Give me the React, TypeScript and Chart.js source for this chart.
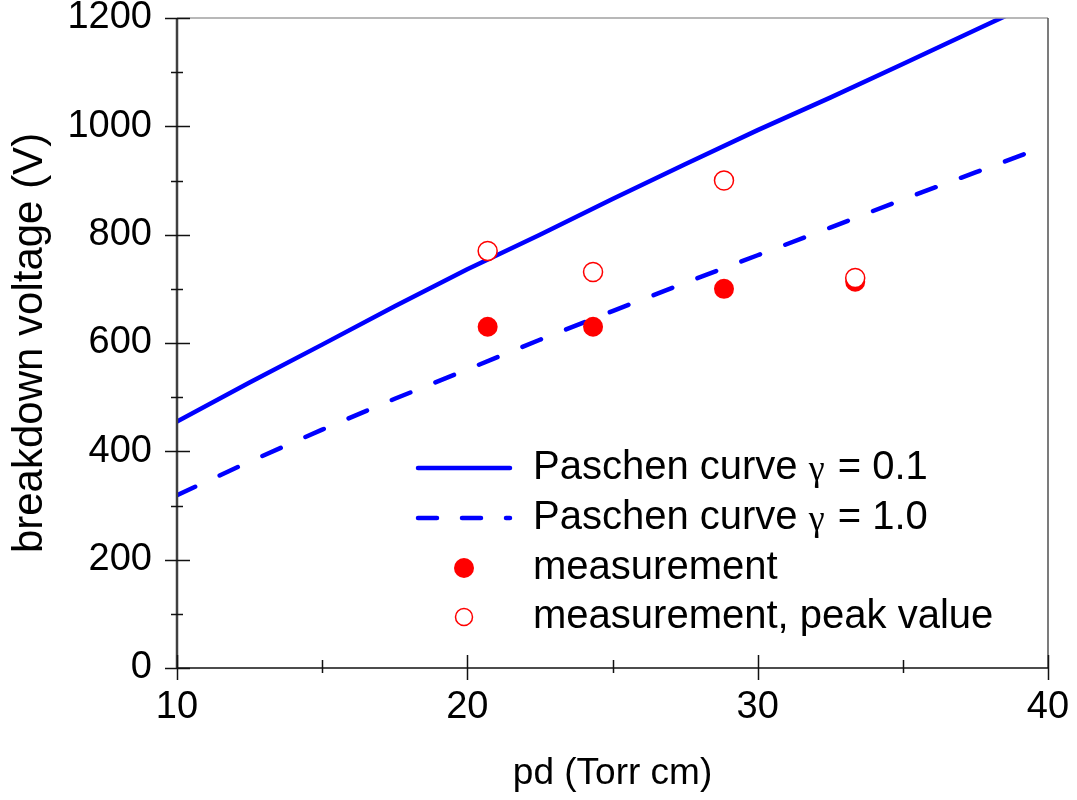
import React, { useEffect, useRef } from 'react';
import { Chart, registerables } from 'chart.js';

Chart.register(...registerables);

// ---- data ----
const pdCurve = [10, 12.5, 15, 17.5, 20, 22.5, 25, 27.5, 30, 32.5, 35, 37.5, 40];
const vGamma01 = [455, 527, 597, 668, 736, 800, 866, 930, 993, 1053, 1115, 1178, 1240];
const vGamma10 = [319, 381, 440, 497, 551, 606, 659, 711, 762, 813, 865, 915, 965];
const pdMeasured = [20.7, 24.33, 28.84, 33.36];
const vMeasured = [630, 630, 700, 713];
const vPeak = [770, 731, 900, 720];
const xTicks = [10, 20, 30, 40];
const yTicks = [0, 200, 400, 600, 800, 1000, 1200];
const xMinorTicks = [15, 25, 35];
const yMinorTicks = [100, 300, 500, 700, 900, 1100];
const legendLabels = [
  'Paschen curve γ = 0.1',
  'Paschen curve γ = 1.0',
  'measurement',
  'measurement, peak value',
];
const xTitle = 'pd (Torr cm)';
const yTitle = 'breakdown voltage (V)';

const SANS = "'Liberation Sans', Arial, sans-serif";
const SERIF = "'Liberation Serif', 'Times New Roman', serif";
const BLUE = '#0000ff';
const RED = '#ff0000';

const framePlugin = {
  id: 'frameTicks',
  afterDraw(chart: any) {
    const { ctx, chartArea: a, scales } = chart;
    const xs = scales.x;
    const ys = scales.y;
    const seg = (x1: number, y1: number, x2: number, y2: number) => {
      ctx.beginPath();
      ctx.moveTo(x1, y1);
      ctx.lineTo(x2, y2);
      ctx.stroke();
    };
    ctx.save();
    ctx.lineCap = 'butt';
    ctx.strokeStyle = '#a0a0a0';
    ctx.lineWidth = 1.5;
    seg(a.left, a.top, a.right, a.top);
    ctx.strokeStyle = '#505050';
    ctx.lineWidth = 1.5;
    seg(a.right, a.top, a.right, a.bottom);
    ctx.strokeStyle = '#404040';
    ctx.lineWidth = 2.5;
    seg(a.left, a.top, a.left, a.bottom);
    ctx.strokeStyle = '#111111';
    ctx.lineWidth = 1.5;
    seg(a.left, a.bottom, a.right, a.bottom);
    ctx.strokeStyle = '#111111';
    ctx.lineWidth = 1.5;
    yTicks.forEach((v) => {
      const py = Math.round(ys.getPixelForValue(v)) + 0.5;
      seg(a.left - 12, py, a.left + 13, py);
    });
    yMinorTicks.forEach((v) => {
      const py = Math.round(ys.getPixelForValue(v)) + 0.5;
      seg(a.left - 6, py, a.left + 6, py);
    });
    xTicks.forEach((v) => {
      const px = Math.round(xs.getPixelForValue(v)) + 0.5;
      seg(px, a.bottom - 13, px, a.bottom + 12);
    });
    xMinorTicks.forEach((v) => {
      const px = Math.round(xs.getPixelForValue(v)) + 0.5;
      seg(px, a.bottom - 8, px, a.bottom + 5);
    });
    ctx.restore();
  },
};

const legendPlugin = {
  id: 'innerLegend',
  afterDraw(chart: any) {
    const { ctx } = chart;
    const rows = [468, 518, 568, 617];
    const lineX1 = 418;
    const lineX2 = 510;
    const markX = 464;
    const textX = 533;
    const fontSize = 40;
    ctx.save();
    ctx.textBaseline = 'middle';
    ctx.textAlign = 'left';
    ctx.fillStyle = '#000';
    legendLabels.forEach((label, i) => {
      const y = rows[i];
      if (i === 0 || i === 1) {
        ctx.strokeStyle = BLUE;
        ctx.lineWidth = 4.5;
        ctx.lineCap = 'round';
        ctx.setLineDash(i === 1 ? [19, 25] : []);
        ctx.beginPath();
        ctx.moveTo(lineX1, y);
        ctx.lineTo(lineX2, y);
        ctx.stroke();
        ctx.setLineDash([]);
      } else if (i === 2) {
        ctx.fillStyle = RED;
        ctx.beginPath();
        ctx.arc(markX, y, 10, 0, Math.PI * 2);
        ctx.fill();
      } else {
        ctx.strokeStyle = RED;
        ctx.lineWidth = 1.5;
        ctx.fillStyle = '#fff';
        ctx.beginPath();
        ctx.arc(markX, y, 8.5, 0, Math.PI * 2);
        ctx.fill();
        ctx.stroke();
      }
      ctx.fillStyle = '#000';
      const gi = label.indexOf('γ');
      if (gi >= 0) {
        const before = label.slice(0, gi);
        const after = label.slice(gi + 1);
        ctx.font = `${fontSize}px ${SANS}`;
        ctx.fillText(before, textX, y);
        let x = textX + ctx.measureText(before).width;
        ctx.font = `${fontSize - 4}px ${SERIF}`;
        ctx.fillText('γ', x, y + 3);
        x += ctx.measureText('γ').width + 2;
        ctx.font = `${fontSize}px ${SANS}`;
        ctx.fillText(after, x, y);
      } else {
        ctx.font = `${fontSize}px ${SANS}`;
        ctx.fillText(label, textX, y);
      }
    });
    ctx.restore();
  },
};

const noPad = (s: any) => {
  s.paddingTop = 0;
  s.paddingBottom = 0;
  s.paddingLeft = 0;
  s.paddingRight = 0;
};

export default function App() {
  const canvasRef = useRef<HTMLCanvasElement | null>(null);

  useEffect(() => {
    if (!canvasRef.current) return;
    const toPts = (xs: number[], ys: number[]) => xs.map((x, i) => ({ x, y: ys[i] }));
    const chart = new Chart(canvasRef.current, {
      type: 'scatter',
      data: {
        datasets: [
          {
            label: legendLabels[3],
            data: toPts(pdMeasured, vPeak),
            showLine: false,
            pointRadius: 9.5,
            pointBorderWidth: 1.5,
            pointBorderColor: RED,
            pointBackgroundColor: '#ffffff',
            order: 0,
          },
          {
            label: legendLabels[2],
            data: toPts(pdMeasured, vMeasured),
            showLine: false,
            pointRadius: 10,
            pointBorderWidth: 0,
            pointBackgroundColor: RED,
            pointBorderColor: RED,
            order: 1,
          },
          {
            label: legendLabels[0],
            data: toPts(pdCurve, vGamma01),
            showLine: true,
            pointRadius: 0,
            borderColor: BLUE,
            borderWidth: 4.5,
            borderCapStyle: 'round',
            borderJoinStyle: 'round',
            tension: 0,
            clip: 0,
            order: 2,
          } as any,
          {
            label: legendLabels[1],
            data: toPts(pdCurve, vGamma10),
            showLine: true,
            pointRadius: 0,
            borderColor: BLUE,
            borderWidth: 4.5,
            borderDash: [20, 27],
            borderCapStyle: 'round',
            borderJoinStyle: 'round',
            tension: 0,
            clip: 0,
            order: 3,
          } as any,
        ],
      },
      options: {
        animation: false,
        responsive: true,
        maintainAspectRatio: false,
        devicePixelRatio: 1,
        layout: { padding: { left: 0, top: 18, right: 29, bottom: 0 } },
        plugins: { legend: { display: false }, tooltip: { enabled: false } },
        scales: {
          x: {
            type: 'linear',
            min: 10,
            max: 40,
            afterFit: (s: any) => {
              s.height = 132;
              noPad(s);
            },
            afterBuildTicks: (s: any) => {
              s.ticks = xTicks.map((v) => ({ value: v }));
            },
            ticks: {
              color: '#000',
              font: { family: SANS, size: 38, lineHeight: 1 },
              padding: 21,
              callback: (v: any) => String(v),
            },
            grid: { display: false, drawTicks: false },
            border: { display: false },
            title: {
              display: true,
              text: xTitle,
              color: '#000',
              font: { family: SANS, size: 37, lineHeight: 1.2 },
              padding: { top: 0, bottom: 4 },
            },
          },
          y: {
            type: 'linear',
            min: 0,
            max: 1200,
            afterFit: (s: any) => {
              s.width = 177;
              noPad(s);
            },
            afterBuildTicks: (s: any) => {
              s.ticks = yTicks.map((v) => ({ value: v }));
            },
            ticks: {
              color: '#000',
              font: { family: SANS, size: 38, lineHeight: 1 },
              padding: 25,
              callback: (v: any) => String(v),
            },
            grid: { display: false, drawTicks: false },
            border: { display: false },
            title: {
              display: true,
              text: yTitle,
              color: '#000',
              font: { family: SANS, size: 42, lineHeight: 1.2 },
              padding: { top: 5, bottom: 0 },
            },
          },
        },
      },
      plugins: [framePlugin, legendPlugin],
    });
    return () => chart.destroy();
  }, []);

  return (
    <div style={{ position: 'absolute', left: 0, top: 0, width: 1077, height: 800, background: '#fff' }}>
      <canvas ref={canvasRef} />
    </div>
  );
}
